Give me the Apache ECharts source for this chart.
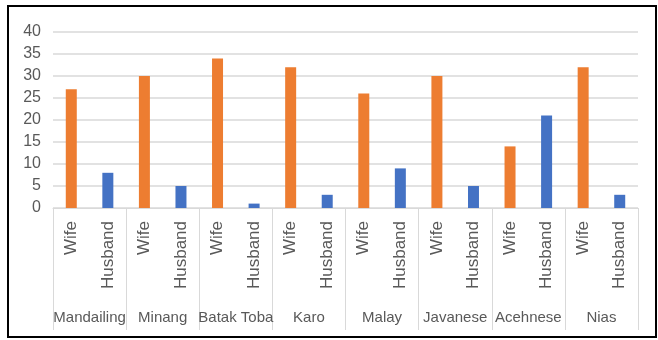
<!DOCTYPE html>
<html>
<head>
<meta charset="utf-8">
<script src="https://cdn.jsdelivr.net/npm/echarts@6/dist/echarts.min.js"></script>
<style>
  html, body { margin: 0; padding: 0; background: #fff; }
  #chart { width: 658px; height: 340px; }
</style>
</head>
<body>
<div id="chart"></div>
<script>
const groups = ["Mandailing", "Minang", "Batak Toba", "Karo", "Malay", "Javanese", "Acehnese", "Nias"];
const roles = ["Wife", "Husband"];
const wife = [27, 30, 34, 32, 26, 30, 14, 32];
const husband = [8, 5, 1, 3, 9, 5, 21, 3];
const yTicks = [0, 5, 10, 15, 20, 25, 30, 35, 40];

// one slot per (group, role); each series only fills its own role's slots
const leaves = groups.flatMap(() => roles);
const wifeData = groups.flatMap((g, i) => [wife[i], "-"]);
const husbandData = groups.flatMap((g, i) => ["-", husband[i]]);

const labelColor = "#595959";
const lineColor = "#d9d9d9";
const font = "Liberation Sans";

const chart = echarts.init(document.getElementById("chart"));
chart.setOption({
    animation: false,
    grid: { left: 53, right: 20, top: 32, bottom: 132 },
    graphic: [{
        type: "rect",
        shape: { x: 8, y: 6, width: 648, height: 331 },
        style: { fill: "none", stroke: "#000", lineWidth: 2 },
        silent: true
    }],
    xAxis: [
        {
            type: "category",
            data: leaves,
            axisLine: { show: true, lineStyle: { color: lineColor, width: 1 } },
            axisTick: { show: false },
            axisLabel: {
                rotate: 90,
                interval: 0,
                margin: 13,
                color: labelColor,
                fontFamily: font,
                fontSize: 17
            }
        },
        {
            type: "category",
            data: groups,
            position: "bottom",
            axisLine: { show: false },
            axisTick: { show: true, length: 122, lineStyle: { color: lineColor, width: 1 } },
            axisLabel: {
                interval: 0,
                margin: 102,
                color: labelColor,
                fontFamily: font,
                fontSize: 15
            }
        }
    ],
    yAxis: {
        type: "value",
        min: yTicks[0],
        max: yTicks[yTicks.length - 1],
        interval: 5,
        axisLine: { show: false },
        axisTick: { show: false },
        splitLine: { lineStyle: { color: lineColor, width: 1.5 } },
        axisLabel: { margin: 12, color: labelColor, fontFamily: font, fontSize: 16 }
    },
    series: [
        {
            name: "Wife",
            type: "bar",
            data: wifeData,
            barWidth: 11,
            barGap: "-100%",
            itemStyle: { color: "#ED7D31" }
        },
        {
            name: "Husband",
            type: "bar",
            data: husbandData,
            barWidth: 11,
            barGap: "-100%",
            itemStyle: { color: "#4472C4" }
        }
    ]
});
</script>
</body>
</html>
